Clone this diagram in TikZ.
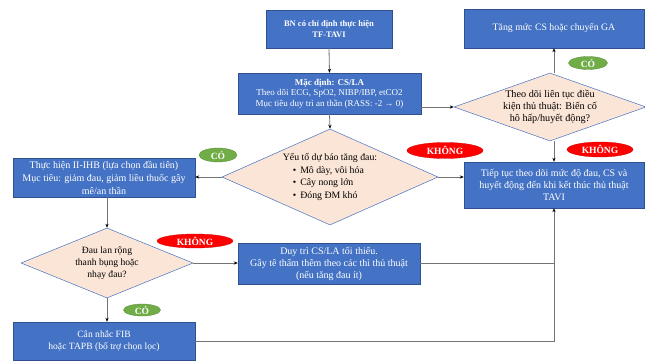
\documentclass[tikz,border=0pt]{standalone}
\usepackage{fontspec}
\setmainfont{Liberation Serif}
\usetikzlibrary{shapes.geometric,arrows.meta,calc}
\definecolor{boxblue}{HTML}{4472C4}
\definecolor{boxedge}{HTML}{2F528F}
\definecolor{peach}{HTML}{FBE5D6}
\definecolor{cogreen}{HTML}{70AD47}
\definecolor{nored}{HTML}{FF0000}
\tikzset{
  bluebox/.style={rectangle, fill=boxblue, draw=boxedge, line width=0.4pt, text=white, align=center, inner sep=0pt, font=\fontsize{10}{12}\selectfont},
  dia/.style={diamond, fill=peach, draw=boxblue, line width=0.5pt, inner sep=0pt},
  diatext/.style={align=center, inner sep=0pt, font=\fontsize{9.6}{11.7}\selectfont},
  yesbadge/.style={ellipse, fill=cogreen, draw=cogreen!80!black, line width=0.3pt, text=white, inner sep=0pt, font=\fontsize{9.5}{10}\selectfont\bfseries},
  nobadge/.style={ellipse, fill=nored, draw=nored!80!black, line width=0.3pt, text=white, inner sep=0pt, font=\fontsize{9.5}{10}\selectfont\bfseries},
  conn/.style={draw=black!55, line width=0.8pt},
  arr/.style={conn, -{Stealth[length=4pt,width=3.2pt,color=black]}}
}
\begin{document}
\begin{tikzpicture}[x=1pt,y=-1pt]
\fill[white] (0,0) rectangle (645,363);
\useasboundingbox (0,0) rectangle (645,363);

% boxes
\node[bluebox, minimum width=126pt, minimum height=38pt, font=\fontsize{8.5}{10.3}\selectfont\bfseries] (b1) at (329,29) {BN có chỉ định thực hiện\\TF-TAVI};
\node[bluebox, minimum width=183pt, minimum height=41pt, font=\fontsize{9}{10.4}\selectfont] (b2) at (329.5,93.5) {\textbf{Mặc định: CS/LA}\\Theo dõi ECG, SpO2, NIBP/IBP, etCO2\\Mục tiêu duy trì an thần (RASS: -2 → 0)};
\node[bluebox, minimum width=180pt, minimum height=39pt, font=\fontsize{9.8}{12}\selectfont] (tang) at (554,28.5) {Tăng mức CS hoặc chuyển GA};
\node[bluebox, minimum width=180pt, minimum height=46pt] (tiep) at (554,185) {Tiếp tục theo dõi mức độ đau, CS và\\huyết động đến khi kết thúc thủ thuật\\TAVI};
\node[bluebox, minimum width=182pt, minimum height=39pt, font=\fontsize{10}{13}\selectfont] (ihb) at (104,177.5) {Thực hiện II-IHB (lựa chọn đầu tiên)\\Mục tiêu: giảm đau, giảm liều thuốc gây\\mê/an thần};
\node[bluebox, minimum width=182pt, minimum height=41pt] (duy) at (329,263.5) {Duy trì CS/LA tối thiểu.\\Gây tê thấm thêm theo các thì thủ thuật\\(nếu tăng đau ít)};
\node[bluebox, minimum width=182pt, minimum height=38pt, font=\fontsize{9.6}{12.5}\selectfont] (fib) at (104,341) {Cân nhắc FIB\\hoặc TAPB (bổ trợ chọn lọc)};

% diamonds
\node[dia, minimum width=192pt, minimum height=68pt] (d2) at (550,107) {};
\node[diatext, font=\fontsize{10.2}{11.7}\selectfont] (d2t) at (d2.center) {Theo dõi liên tục điều\\kiện thủ thuật: Biến cố\\hô hấp/huyết động?};
\node[dia, minimum width=216pt, minimum height=96pt] (d1) at (330,177) {};
\node[diatext, align=left, font=\fontsize{9.8}{12.6}\selectfont] (d1t) at (d1.center) {Yếu tố dự báo tăng đau:\\\hspace{10pt}•\hspace{4pt}Mô dày, vôi hóa\\\hspace{10pt}•\hspace{4pt}Cây nong lớn\\\hspace{10pt}•\hspace{4pt}Đóng ĐM khó};
\node[dia, minimum width=172pt, minimum height=70pt] (d3) at (107,263) {};
\node[diatext] (d3t) at (d3.center) {Đau lan rộng\\thanh bụng hoặc\\nhạy đau?};

% badges
\node[yesbadge, minimum width=39pt, minimum height=13pt] (co1) at (588,63) {CÓ};
\node[nobadge, minimum width=66pt, minimum height=15pt] (no1) at (600,149.5) {KHÔNG};
\node[yesbadge, minimum width=38pt, minimum height=14pt] (co2) at (218,155) {CÓ};
\node[nobadge, minimum width=76pt, minimum height=16pt] (no2) at (445,150.5) {KHÔNG};
\node[nobadge, minimum width=76pt, minimum height=14pt] (no3) at (195,241) {KHÔNG};
\node[yesbadge, minimum width=37pt, minimum height=12pt] (co3) at (142,310) {CÓ};

% connectors
\draw[arr] (b1.south) -- (b2.north);
\draw[arr] (b2.south) -- (d1.north);
\draw[arr] (b2.east |- d2.west) -- (d2.west);
\draw[arr] (d2.north -| tang.south) -- (tang.south);
\draw[arr] (d2.south -| tiep.north) -- (tiep.north);
\draw[arr] (d1.west) -- (ihb.east |- d1.west);
\draw[arr] (d1.east) -- (tiep.west |- d1.east);
\draw[arr] (d3.north |- ihb.south) -- (d3.north);
\draw[arr] (d3.east) -- (duy.west |- d3.east);
\draw[arr] (d3.south) -- (d3.south |- fib.north);
\draw[conn] (duy.east) -- (duy.east -| tiep.south);
\draw[arr] (fib.east) -| (tiep.south);
\end{tikzpicture}
\end{document}
